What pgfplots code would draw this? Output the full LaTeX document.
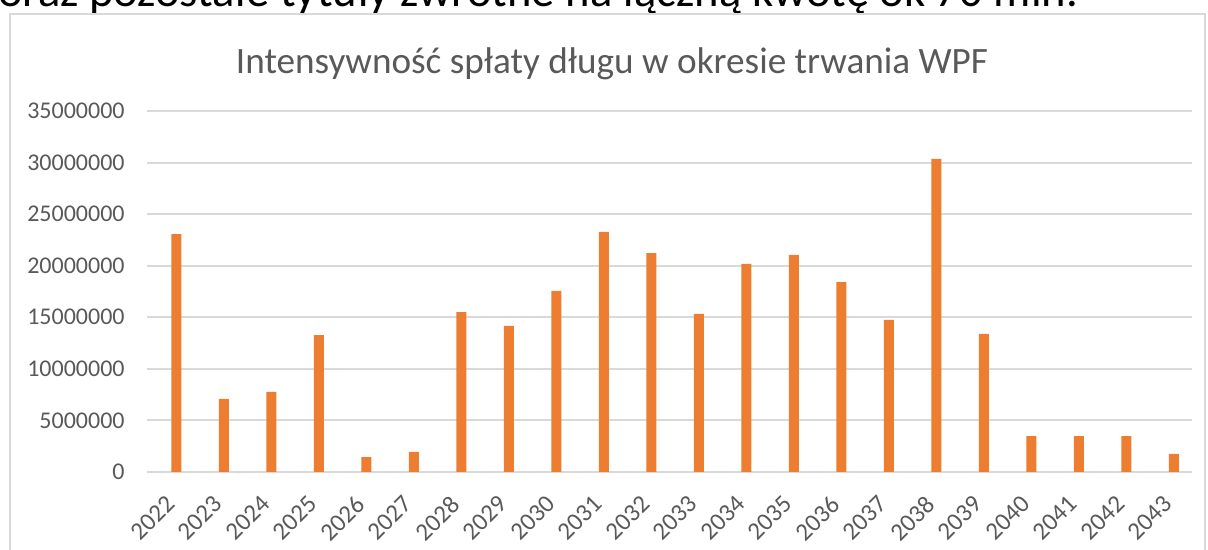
\documentclass[border=0pt]{standalone}
\usepackage{fontspec}
\setmainfont{Carlito}
\usepackage{pgfplots}
\pgfplotsset{compat=1.18}
\definecolor{Bar}{HTML}{ED7D31}
\definecolor{Grid}{HTML}{D9D9D9}
\definecolor{Txt}{HTML}{595959}

\pgfplotstableread{
x val
0 23070000
1 7080000
2 7760000
3 13280000
4 1450000
5 1940000
6 15510000
7 14160000
8 17550000
9 23270000
10 21230000
11 15320000
12 20170000
13 21040000
14 18420000
15 14740000
16 30350000
17 13380000
18 3490000
19 3490000
20 3490000
21 1750000
}\splata

\begin{document}
\begin{tikzpicture}
\useasboundingbox (0,0) rectangle (604pt,275pt);
\clip (0,0) rectangle (604pt,275pt);
% clipped line of the surrounding document
\node[anchor=base west, inner sep=0pt, font=\fontsize{23.3}{27}\selectfont] at (-1pt,271.5pt)
  {oraz pozostałe tytuły zwrotne na łączną kwotę ok 70 mln.};
% chart area frame
\draw[Grid, line width=1.2pt] (5pt,-10pt) rectangle (602.5pt,268pt);
\node[anchor=base, inner sep=0pt, text=Txt, font=\fontsize{18.6}{22}\selectfont] at (306pt,238pt)
  {Intensywność spłaty długu w okresie trwania WPF};
\begin{axis}[
  at={(73.5pt,39pt)}, anchor=south west,
  scale only axis,
  width=522.5pt, height=180.5pt,
  ybar, bar width=5pt, bar shift=2.75pt,
  xmin=-0.5, xmax=21.5,
  ymin=0, ymax=35000000,
  ytick distance=5000000,
  scaled y ticks=false,
  yticklabel={\pgfmathprintnumber[fixed,precision=0,1000 sep={}]{\tick}},
  /pgf/number format/assume math mode=true,
  xtick=data,
  xticklabels={2022,2023,2024,2025,2026,2027,2028,2029,2030,2031,2032,2033,2034,2035,2036,2037,2038,2039,2040,2041,2042,2043},
  major tick length=0pt,
  axis x line*=bottom, axis y line*=left,
  x axis line style={draw=Grid, line width=1.4pt},
  y axis line style={draw=none},
  ymajorgrids,
  grid style={draw=Grid, line width=1pt},
  tick label style={text=Txt, font=\fontsize{12}{14}\selectfont},
  yticklabel style={anchor=east, inner sep=0pt, xshift=-11pt},
  xticklabel style={anchor=east, inner sep=0pt, yshift=-14pt, rotate=45, font=\fontsize{12.5}{14}\selectfont},
]
\addplot[fill=Bar, draw=none] table[x=x, y=val] {\splata};
\end{axis}
\end{tikzpicture}
\end{document}
